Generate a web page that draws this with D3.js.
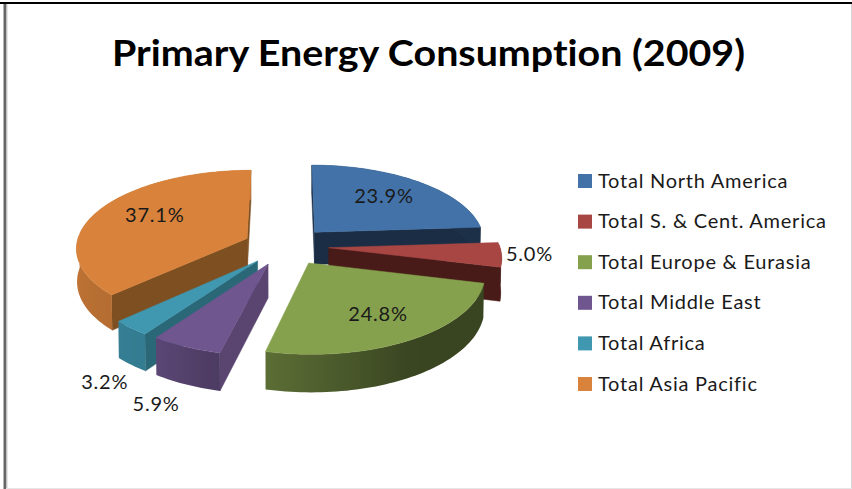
<!DOCTYPE html>
<html><head><meta charset="utf-8">
<script src="https://cdnjs.cloudflare.com/ajax/libs/d3/7.8.5/d3.min.js"></script>
<style>html,body{margin:0;padding:0;background:#fff}svg{display:block}text{font-variant-ligatures:none}</style>
</head><body><svg id="c" width="852" height="489"></svg>
<script>
const chartTitle = "Primary Energy Consumption (2009)";
const categories = ["Total North America","Total S. & Cent. America","Total Europe & Eurasia","Total Middle East","Total Africa","Total Asia Pacific"];
const shares = [23.9,5.0,24.8,5.9,3.2,37.1];
const shareLabels = ["23.9%","5.0%","24.8%","5.9%","3.2%","37.1%"];
const topColors = ["#4372a8","#a84643","#86a14d","#6f568f","#3f97b0","#d8823b"];
const wallColors = ["#1b2d45","#481b18","#3a421f","#5a4470","#2a6878","#7e4f20"];

// view settings of the tilted, exploded pie
const view = {cx:286, cy:246, rx:171, ry:77.3, k:0.11, explode:0.25, depth:33, shrink:0.997};
const labelAnchors = [[0.65,0,-2],[1.12,7,-1],[0.65,5,4],[1.15,-16,44],[1.15,-5,44],[0.65,5,-4]];

const svg = d3.select("#c");
const defs = svg.append("defs");
const line = d3.line().curve(d3.curveLinearClosed);
const pie = d3.pie().sort(null).value(d=>d);
const arcs = pie(shares);
const deg = d3.scaleLinear().domain([0,180]).range([0,Math.PI]);
const wallShade = d3.scaleLinear().domain([100,150,193,215,270,360]).range([.42,.43,.68,.82,.9,.9]).clamp(true);

function world(a,r,mid){
  const e=view.explode;
  return [e*Math.sin(mid)+r*Math.sin(a), -e*Math.cos(mid)-r*Math.cos(a)];
}
function upper(a,r,mid){
  const [u,v]=world(a,r,mid), w=1-view.k*v;
  return [view.cx+view.rx*u/w, view.cy+view.ry*v/w];
}
function lower(a,r,mid){
  const [u,v]=world(a,r,mid), w=1-view.k*v;
  return [view.cx+view.shrink*view.rx*u/w, view.cy+view.ry*v/w+view.depth/w];
}
const shade=(c,f)=>{const q=d3.rgb(c);return d3.rgb(q.r*f,q.g*f,q.b*f).formatHex();};

// frame
svg.append("rect").attr("x",0).attr("y",0).attr("width",852).attr("height",489).attr("fill","#fff");
svg.append("rect").attr("x",3.5).attr("y",3).attr("width",3).attr("height",486).attr("fill","#666");
svg.append("rect").attr("x",6.5).attr("y",4).attr("width",1).attr("height",485).attr("fill","#ccc");
svg.append("rect").attr("x",851).attr("y",4).attr("width",1).attr("height",485).attr("fill","#d4d4d4");
svg.append("rect").attr("x",6).attr("y",488).attr("width",846).attr("height",1).attr("fill","#e6e6e6");
svg.append("rect").attr("x",0).attr("y",2).attr("width",852).attr("height",2).attr("fill","#000");

svg.append("text").attr("x",428.5).attr("y",66).attr("text-anchor","middle")
  .attr("font-family","Lato").attr("font-weight",700).attr("font-size",37).attr("fill","#000")
  .attr("textLength",633).attr("lengthAdjust","spacingAndGlyphs").text(chartTitle);

const order = arcs.map((d,i)=>i).sort((p,q)=>{
  const m=d=>(d.startAngle+d.endAngle)/2;
  return -Math.cos(m(arcs[p]))+Math.cos(m(arcs[q]));
});
const pieG = svg.append("g");
order.forEach(i=>{
  const d=arcs[i], mid=(d.startAngle+d.endAngle)/2, g=pieG.append("g");
  const steps=Math.max(2,Math.ceil((d.endAngle-d.startAngle)/deg(1.5)));
  const as=d3.range(steps+1).map(j=>d.startAngle+(d.endAngle-d.startAngle)*j/steps);
  [[d.startAngle,1],[d.endAngle,-1]].forEach(([a,sgn])=>{
    const quad=[upper(a,0,mid),upper(a,1,mid),lower(a,1,mid),lower(a,0,mid)];
    if(d3.polygonArea(quad)*sgn>0)
      g.append("path").attr("d",line(quad)).attr("fill",wallColors[i]).attr("stroke",wallColors[i]).attr("stroke-width",.5);
  });
  // curved wall split at its fold: the back part is one flat tone, the front a horizontal gradient
  const front=as.filter(a=>Math.cos(a)<0.05);
  const back=as.filter(a=>Math.cos(a)>=0.05);
  const ribbon=list=>line(list.map(a=>upper(a,1,mid)).concat(list.slice().reverse().map(a=>lower(a,1,mid))));
  const flat=shade(topColors[i],wallShade(mid*180/Math.PI));
  if(back.length>1) g.append("path").attr("d",ribbon(back)).attr("fill",flat);
  if(front.length>1){
    const xs=front.map(a=>upper(a,1,mid)[0]), x0=d3.min(xs), x1=d3.max(xs), off=d3.scaleLinear().domain([x0,x1]).range([0,1]);
    const grad=defs.append("linearGradient").attr("id","rim"+i).attr("gradientUnits","userSpaceOnUse")
      .attr("x1",x0).attr("x2",x1).attr("y1",0).attr("y2",0);
    d3.sort(front,a=>upper(a,1,mid)[0]).forEach(a=>{
      grad.append("stop").attr("offset",off(upper(a,1,mid)[0])).attr("stop-color",shade(topColors[i],wallShade(a*180/Math.PI)));
    });
    g.append("path").attr("d",ribbon(front)).attr("fill","url(#rim"+i+")");
  }
  g.append("path").attr("d",line([upper(d.startAngle,0,mid)].concat(as.map(a=>upper(a,1,mid))))).attr("fill",topColors[i]).attr("stroke",topColors[i]).attr("stroke-width",.5);
});

// data labels
const labelG = svg.append("g").attr("font-family","Lato").attr("font-size",20).attr("letter-spacing",".8").attr("fill","#1a1a1a").attr("text-anchor","middle");
arcs.forEach((d,i)=>{
  const mid=(d.startAngle+d.endAngle)/2, [r,dx,dy]=labelAnchors[i], p=upper(mid,r,mid);
  labelG.append("text").attr("x",p[0]+dx).attr("y",p[1]+dy+6).text(shareLabels[i]);
});

// legend
const legendY = d3.scalePoint().domain(categories).range([181,384]);
const legend = svg.append("g").selectAll("g").data(categories).join("g")
  .attr("transform",d=>`translate(578,${legendY(d)})`);
legend.append("rect").attr("x",0).attr("y",-7).attr("width",14).attr("height",14).attr("fill",(d,i)=>topColors[i]);
legend.append("text").attr("x",20).attr("y",6.5).attr("font-family","Lato").attr("font-size",20).attr("letter-spacing",".75").attr("fill","#1a1a1a").text(d=>d);
</script></body></html>
